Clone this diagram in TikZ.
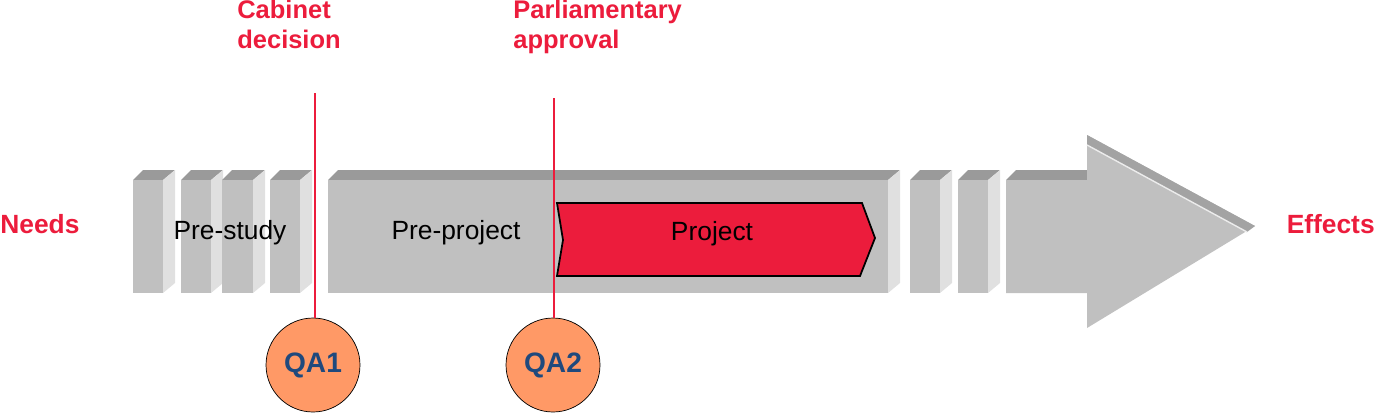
\documentclass[tikz,border=0pt]{standalone}
\usepackage{fontspec}
\setmainfont{Liberation Sans}
\usetikzlibrary{calc}
\usetikzlibrary{positioning}
\definecolor{msred}{HTML}{EC1C3C}
\definecolor{qaorange}{HTML}{FF9966}
\definecolor{qablue}{HTML}{1F497D}
\definecolor{frontgray}{HTML}{C0C0C0}
\definecolor{topgray}{HTML}{9A9A9A}
\definecolor{sidegray}{HTML}{E0E0E0}
\tikzstyle{milestone} = [text=msred, font=\fontsize{14.5}{17}\selectfont\bfseries, align=left, anchor=north west, inner sep=0pt]
\tikzstyle{endlabel} = [text=msred, font=\fontsize{15}{18}\selectfont\bfseries, inner sep=0pt]
\tikzstyle{phase} = [font=\fontsize{15}{18}\selectfont, inner sep=0pt]
\tikzstyle{qanode} = [draw, circle, fill=qaorange, minimum size=1.88cm, text=qablue, font=\fontsize{16}{19}\selectfont\bfseries]
\tikzstyle{redline} = [draw=msred, line width=1.3pt]
% front x from, front x to
\newcommand{\slab}[2]{%
  \fill[topgray] (#1,180) -- (#1+10,170) -- (#2+12,170) -- (#2,180) -- cycle;
  \fill[sidegray] (#2,180) -- (#2+12,170) -- (#2+12,283) -- (#2,293) -- cycle;
  \fill[frontgray] (#1,180) rectangle (#2,293);}

\begin{document}
\begin{tikzpicture}[x=0.02cm, y=-0.02cm]
    \useasboundingbox (0,0) rectangle (1375,413);
    \slab{133}{163}
    \slab{181}{211}
    \slab{222}{253}
    \slab{270}{300}
    \slab{328}{888}
    \slab{910}{940}
    \slab{958}{988}

    % big arrow
    \fill[topgray] (1006,180) -- (1016,170) -- (1087,170) -- (1087,180) -- cycle;
    \fill[frontgray] (1006,180) -- (1087,180) -- (1087,135) -- (1255,226) -- (1087,328) -- (1087,293) -- (1006,293) -- cycle;
    \fill[frontgray!85!black] (1087,135) -- (1255,226) -- (1247,232) -- (1087,145) -- cycle;
    \draw[white!85!gray, line width=0.8pt] (1087,145) -- (1247,232);

    % project chevron
    \draw[fill=msred, line width=1pt] (557,203) -- (862,203) -- (875,238) -- (860,276) -- (557,276) -- (563,240) -- cycle;

    \node[phase] (prestudy) at (230,233) {Pre-study};
    \node[phase] (preproject) at (456,233) {Pre-project};
    \node[phase] (project) at (712,234) {Project};
    \node[endlabel, anchor=west] (needs) at (0,224) {Needs};
    \node[endlabel, anchor=east] (effects) at (1375,224) {Effects};

    \node[milestone] (cabinet) at (237,0) {Cabinet\\decision};
    \node[milestone] (parliament) at (513,0) {Parliamentary\\approval};

    \node[qanode] (qa1) at (313,365) {QA1};
    \node[qanode] (qa2) at (553,365) {QA2};
    \coordinate (cabtop) at (315,93);
    \coordinate (partop) at (554,98);
    \draw[redline] (cabtop) -- (cabtop |- qa1.north);
    \draw[redline] (partop) -- (partop |- qa2.north);
\end{tikzpicture}
\end{document}
